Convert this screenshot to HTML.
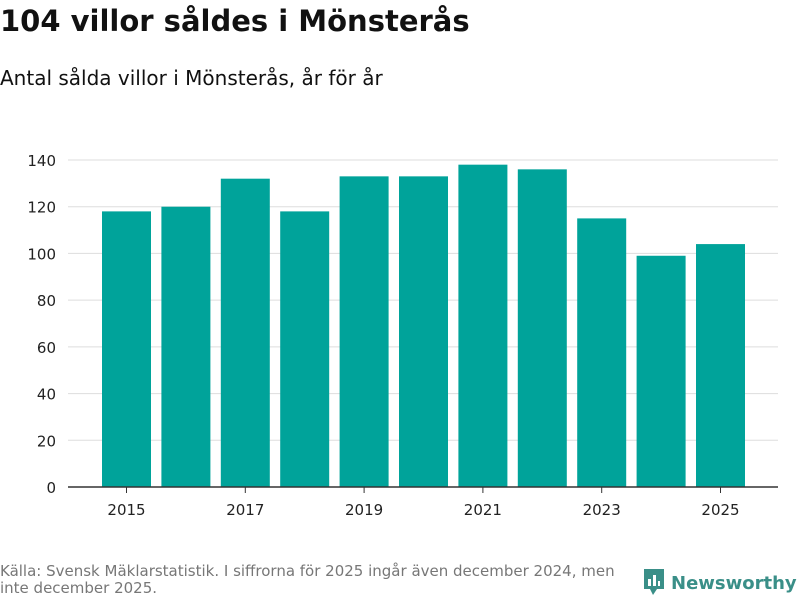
<!DOCTYPE html>
<html><head><meta charset="utf-8"><style>
body{margin:0;width:800px;height:600px;background:#fff;font-family:"DejaVu Sans","Liberation Sans",sans-serif;overflow:hidden;position:relative}
#title{position:absolute;left:0;top:4px;font-size:29px;font-weight:bold;color:#111;margin:0}
#sub{position:absolute;left:0;top:66px;font-size:20px;color:#111}
#src{position:absolute;left:0;top:563px;font-size:15px;color:#777;line-height:17px;width:640px}
#logo{position:absolute;left:643px;top:568px;font-size:18px;font-weight:bold;color:#3a8f88;white-space:nowrap;width:160px}
</style></head><body>
<div id="title">104 villor såldes i Mönsterås</div>
<div id="sub">Antal sålda villor i Mönsterås, år för år</div>
<svg id="chart" width="800" height="600" style="position:absolute;left:0;top:0"></svg>
<div id="src">Källa: Svensk Mäklarstatistik. I siffrorna för 2025 ingår även december 2024, men inte december 2025.</div>
<div id="logo"><svg width="22" height="28" style="vertical-align:-7px;margin-right:6px"><path d="M1 1h20v20h-7l-4 6-3-6H1z" fill="#3a8f88"/><rect x="5" y="11" width="3" height="7" fill="#fff"/><rect x="10" y="7" width="3" height="11" fill="#fff"/><rect x="15" y="13" width="2" height="5" fill="#fff"/></svg>Newsworthy</div>
<script>
const categories=[2015,2016,2017,2018,2019,2020,2021,2022,2023,2024,2025];
const values=[118,120,132,118,133,133,138,136,115,99,104];
const yTicks=[0,20,40,60,80,100,120,140];
const xTickLabels=["2015","2017","2019","2021","2023","2025"];
const NS="http://www.w3.org/2000/svg";
const svg=document.getElementById('chart');
const y=v=>487-v*(327/140);
const step=59.4,x0=126.5;
const x=i=>x0+i*step;
function mk(t,a){const e=document.createElementNS(NS,t);for(const k in a)e.setAttribute(k,a[k]);svg.appendChild(e);return e;}
yTicks.forEach(t=>{
 if(t>0){const l=mk('line',{x1:68,x2:778,y1:y(t),y2:y(t),stroke:'#ddd','stroke-width':1});
 
 }
 const tx=mk('text',{x:56,y:y(t)+6,'text-anchor':'end','font-size':15,fill:'#222'});tx.textContent=t;
 
 
});
values.forEach((v,i)=>{
 const r=mk('rect',{x:x(i)-24.5,y:y(v),width:49,height:487-y(v),fill:'#00a39a'});
 
 
});
const ax=mk('line',{x1:68,x2:778,y1:487,y2:487,stroke:'#333','stroke-width':1.5});


xTickLabels.forEach(lbl=>{
 const i=categories.indexOf(+lbl);
 const tk=mk('line',{x1:x(i),x2:x(i),y1:487,y2:493,stroke:'#333'});
 
 
 const t=mk('text',{x:x(i),y:515,'text-anchor':'middle','font-size':15,fill:'#222'});t.textContent=lbl;
 
 
});
</script>
</body></html>
